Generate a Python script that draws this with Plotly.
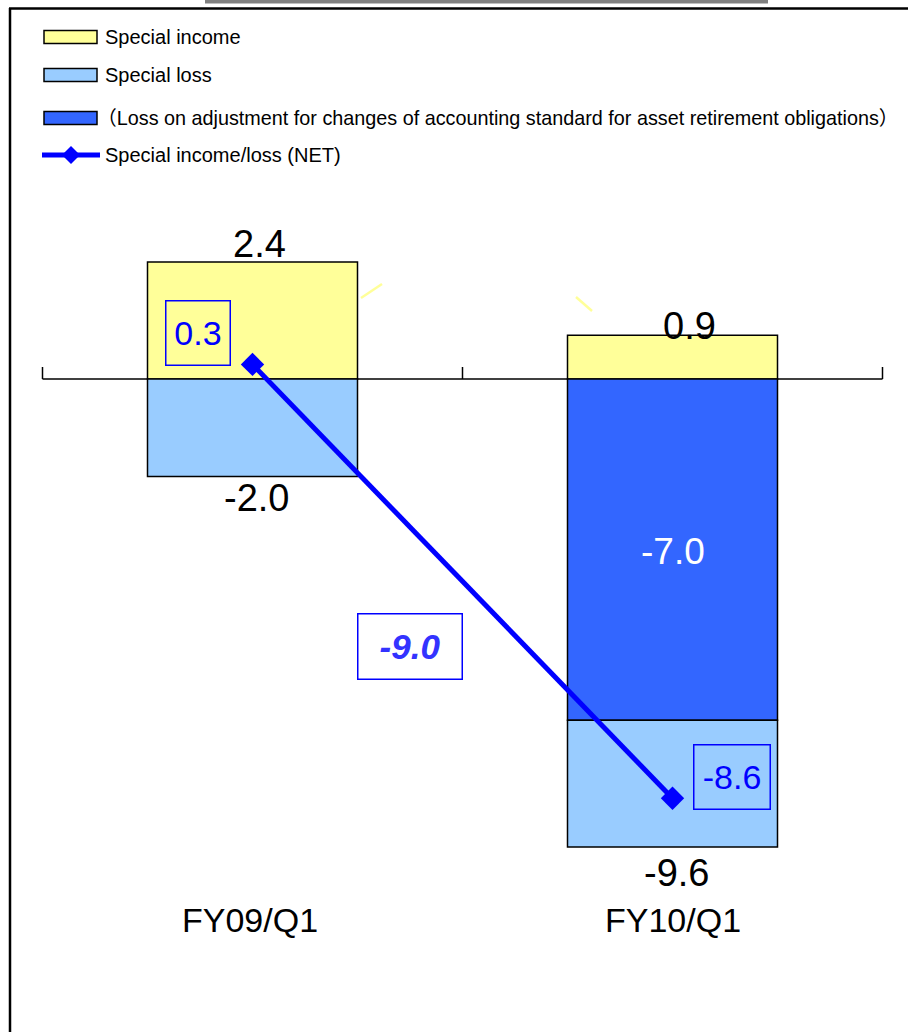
import plotly.graph_objects as go

# ---- data -------------------------------------------------------------
categories = ["FY09/Q1", "FY10/Q1"]
special_income = [2.4, 0.9]
special_loss = [-2.0, -9.6]          # total special loss
adjustment_loss = [0.0, -7.0]        # part of special loss (asset retirement obligations)
net_income_loss = [0.3, -8.6]
net_change = -9.0

legend_labels = [
    "Special income",
    "Special loss",
    "（Loss on adjustment for changes of accounting standard for asset retirement obligations）",
    "Special income/loss (NET)",
]

# ---- styling ----------------------------------------------------------
W, H = 908, 1032
FONT = "Arial, 'Liberation Sans', 'Noto Sans CJK JP', sans-serif"
C_INCOME = "#FFFF99"
C_LOSS = "#99CCFF"
C_ADJ = "#3366FF"
C_NET = "#0000FF"

# pixel scale of the value axis: zero line at y=379 px, 48.75 px per unit
PX_PER_UNIT = 48.75
ZERO_PX = 379
y_top = ZERO_PX / PX_PER_UNIT
y_bot = -(H - ZERO_PX) / PX_PER_UNIT
# category axis: first category at 252.5 px, 420 px between categories
X0_PX, X_STEP = 252.5, 420
x_lo = -X0_PX / X_STEP
x_hi = (W - X0_PX) / X_STEP


def px(x):
    return x / W


def py(y):
    return 1 - y / H


remaining_loss = [round(l - a, 1) for l, a in zip(special_loss, adjustment_loss)]
adj_plot = [a if a != 0 else None for a in adjustment_loss]

fig = go.Figure()
bar_line = dict(color="black", width=1.5)
fig.add_trace(go.Bar(x=categories, y=special_income, width=0.5,
                     marker=dict(color=C_INCOME, line=bar_line), name=legend_labels[0]))
fig.add_trace(go.Bar(x=categories, y=adj_plot, width=0.5,
                     marker=dict(color=C_ADJ, line=bar_line), name=legend_labels[2]))
fig.add_trace(go.Bar(x=categories, y=remaining_loss, width=0.5,
                     marker=dict(color=C_LOSS, line=bar_line), name=legend_labels[1]))
fig.add_trace(go.Scatter(x=categories, y=net_income_loss, mode="lines+markers",
                         line=dict(color=C_NET, width=5),
                         marker=dict(symbol="diamond", size=18, color=C_NET),
                         name=legend_labels[3]))

shapes = []
annotations = []

# frame and top strip
shapes.append(dict(type="rect", xref="paper", yref="paper",
                   x0=px(205), x1=px(768), y0=py(0), y1=py(3.5),
                   fillcolor="#808080", line=dict(width=0)))
shapes.append(dict(type="line", xref="paper", yref="paper",
                   x0=px(9), x1=px(W), y0=py(8.5), y1=py(8.5),
                   line=dict(color="black", width=2.5)))
shapes.append(dict(type="line", xref="paper", yref="paper",
                   x0=px(10), x1=px(10), y0=py(8), y1=py(H),
                   line=dict(color="black", width=2.5)))

# category axis line with inward ticks at category boundaries
shapes.append(dict(type="line", xref="x", yref="y", x0=-0.5, x1=1.5, y0=0, y1=0,
                   line=dict(color="black", width=1.5), layer="below"))
for b in (-0.5, 0.5, 1.5):
    shapes.append(dict(type="line", xref="x", yref="y", x0=b, x1=b,
                       y0=0, y1=12 / PX_PER_UNIT,
                       line=dict(color="black", width=1.5), layer="below"))

# short pale leader strokes
shapes.append(dict(type="line", xref="paper", yref="paper",
                   x0=px(361), y0=py(298), x1=px(382), y1=py(284),
                   line=dict(color=C_INCOME, width=2.5)))
shapes.append(dict(type="line", xref="paper", yref="paper",
                   x0=px(576), y0=py(297), x1=px(592), y1=py(311),
                   line=dict(color=C_INCOME, width=2.5)))

# legend
legend_rows = [37, 75, 118, 155]
legend_sizes = [20, 20, 19.8, 20]
legend_x = [103, 103, 95, 103]
for color, yc in zip([C_INCOME, C_LOSS, C_ADJ], legend_rows[:3]):
    shapes.append(dict(type="rect", xref="paper", yref="paper",
                       x0=px(44), x1=px(97), y0=py(yc - 6.5), y1=py(yc + 6.5),
                       fillcolor=color, line=dict(color="black", width=1.5)))
yl = legend_rows[3]
shapes.append(dict(type="line", xref="paper", yref="paper",
                   x0=px(42), x1=px(100), y0=py(yl), y1=py(yl),
                   line=dict(color=C_NET, width=5)))
d = 9
shapes.append(dict(type="path", xref="paper", yref="paper",
                   path=(f"M {px(71 - d)} {py(yl)} L {px(71)} {py(yl - d)} "
                         f"L {px(71 + d)} {py(yl)} L {px(71)} {py(yl + d)} Z"),
                   fillcolor=C_NET, line=dict(width=0)))
for text, yc, fs, lx in zip(legend_labels, legend_rows, legend_sizes, legend_x):
    annotations.append(dict(text=text, xref="paper", yref="paper",
                            x=px(lx), y=py(yc), xanchor="left", yanchor="middle",
                            showarrow=False, font=dict(family=FONT, size=fs, color="black")))


def fmt(v):
    return f"{v:.1f}"


# bar value labels
annotations += [
    dict(x=categories[0], y=special_income[0], text=fmt(special_income[0]),
         xshift=7, yshift=18, size=38, color="black"),
    dict(x=categories[0], y=special_loss[0], text=fmt(special_loss[0]),
         xshift=3.5, yshift=-21.5, size=38, color="black"),
    dict(x=categories[1], y=special_income[1], text=fmt(special_income[1]),
         xshift=17, yshift=9, size=38, color="black"),
    dict(x=categories[1], y=special_loss[1], text=fmt(special_loss[1]),
         xshift=3.5, yshift=-26, size=38, color="black"),
    dict(x=categories[1], y=adjustment_loss[1] / 2, text=fmt(adjustment_loss[1]),
         xshift=0, yshift=-2, size=37, color="white"),
]
for a in annotations[-5:]:
    size, color = a.pop("size"), a.pop("color")
    a.update(xref="x", yref="y", showarrow=False, xanchor="center", yanchor="middle",
             font=dict(family=FONT, size=size, color=color))

# boxed net labels
for cat, v, dx, dy, w in [(categories[0], net_income_loss[0], -54.5, 31, 63),
                          (categories[1], net_income_loss[1], 59.5, 21, 75)]:
    annotations.append(dict(x=cat, y=v, xref="x", yref="y", text=fmt(v),
                            xshift=dx, yshift=dy, showarrow=False,
                            width=w, height=63, borderpad=0,
                            bordercolor=C_NET, borderwidth=1.5, bgcolor="rgba(0,0,0,0)",
                            font=dict(family=FONT, size=34, color=C_NET)))

# change between periods
annotations.append(dict(x=0.5, y=sum(net_income_loss) / 2, xref="x", yref="y",
                        text=f"<b><i>{fmt(net_change)}</i></b>",
                        xshift=-52.5, yshift=-65.5, showarrow=False,
                        width=103, height=64, borderpad=0,
                        bordercolor=C_NET, borderwidth=1.5,
                        font=dict(family=FONT, size=35, color="#3333FF")))

# category labels
for cat, dx in zip(categories, [-2.5, 0.5]):
    annotations.append(dict(x=cat, y=py(920), xref="x", yref="paper", text=cat,
                            xshift=dx, showarrow=False, xanchor="center", yanchor="middle",
                            font=dict(family=FONT, size=34, color="black")))

fig.update_layout(
    width=W, height=H,
    margin=dict(l=0, r=0, t=0, b=0),
    paper_bgcolor="white", plot_bgcolor="white",
    barmode="relative",
    showlegend=False,
    xaxis=dict(type="category", range=[x_lo, x_hi], visible=False, fixedrange=True),
    yaxis=dict(range=[y_bot, y_top], visible=False, fixedrange=True),
    shapes=shapes,
    annotations=annotations,
)

fig.write_html("out.html")
